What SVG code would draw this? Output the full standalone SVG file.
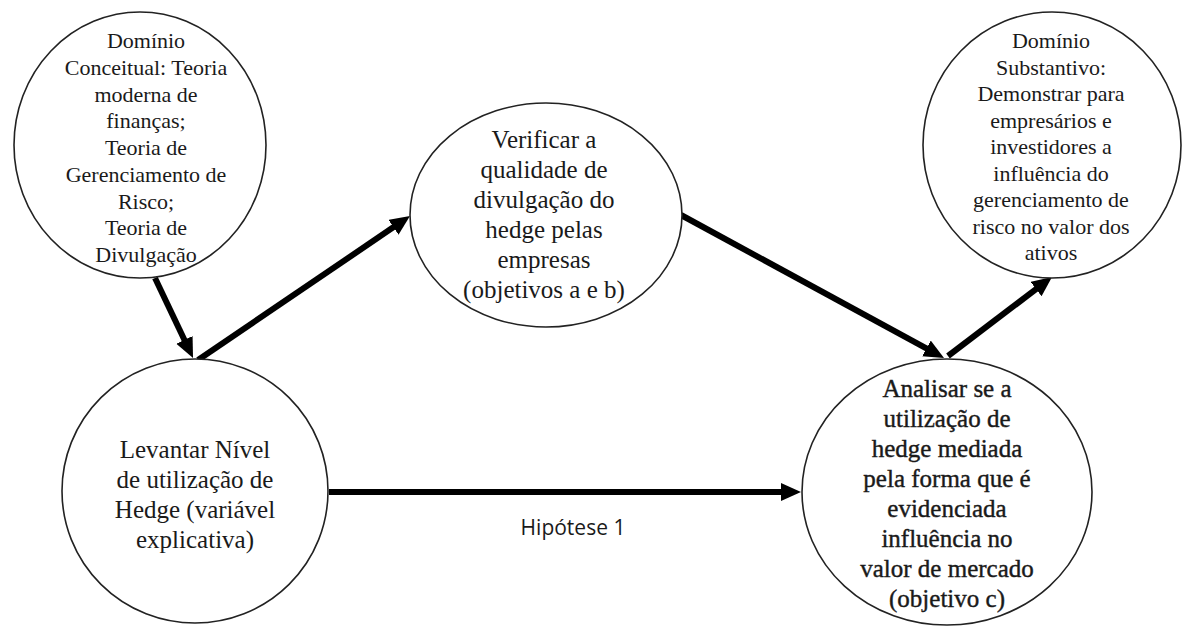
<svg xmlns="http://www.w3.org/2000/svg" width="1187" height="626" viewBox="0 0 1187 626">
  <style>
    .node { fill: #ffffff; stroke: #222222; stroke-width: 1.6; }
    .t { font-family: "Liberation Serif", "Times New Roman", serif; fill: #1a1a1a; text-anchor: middle; }
    .s { font-size: 22px; }
    .l { font-size: 25px; }
    .b { stroke: #1a1a1a; stroke-width: 0.4; }
    .conn { stroke: #000000; stroke-width: 6; fill: none; marker-end: url(#arrow); }
    .lbl { font-family: "Open Sans", "Noto Sans", sans-serif; font-size: 21px; fill: #1a1a1a; text-anchor: middle; }
  </style>
  <defs>
    <marker id="arrow" markerUnits="userSpaceOnUse" markerWidth="22" markerHeight="20" refX="2" refY="9" orient="auto">
      <path d="M0,0 L20,9 L0,18 z" fill="#000000"/>
    </marker>
  </defs>
  <rect width="1187" height="626" fill="#ffffff"/>

  <g id="connectors">
    <line class="conn" x1="155" y1="278" x2="185.3" y2="341.7"/>
    <line class="conn" x1="198" y1="360" x2="395.1" y2="226.1"/>
    <line class="conn" x1="681" y1="215" x2="928.2" y2="349.4"/>
    <line class="conn" x1="948" y1="356" x2="1037.7" y2="287.9"/>
    <line class="conn" x1="329" y1="492" x2="783" y2="492"/>
    <text class="lbl" x="573" y="535">Hipótese 1</text>
  </g>

  <g id="node-conceitual">
    <ellipse class="node" cx="140" cy="145" rx="126" ry="133"/>
    <text class="t s" x="146" y="48">Domínio</text>
    <text class="t s" x="146" y="74.75">Conceitual: Teoria</text>
    <text class="t s" x="146" y="101.5">moderna de</text>
    <text class="t s" x="146" y="128.25">finanças;</text>
    <text class="t s" x="146" y="155">Teoria de</text>
    <text class="t s" x="146" y="181.75">Gerenciamento de</text>
    <text class="t s" x="146" y="208.5">Risco;</text>
    <text class="t s" x="146" y="235.25">Teoria de</text>
    <text class="t s" x="146" y="262">Divulgação</text>
  </g>

  <g id="node-verificar">
    <ellipse class="node" cx="546" cy="215" rx="136" ry="112"/>
    <text class="t l" x="544" y="148">Verificar a</text>
    <text class="t l" x="544" y="178">qualidade de</text>
    <text class="t l" x="544" y="208">divulgação do</text>
    <text class="t l" x="544" y="238">hedge pelas</text>
    <text class="t l" x="544" y="268">empresas</text>
    <text class="t l" x="544" y="298">(objetivos a e b)</text>
  </g>

  <g id="node-substantivo">
    <ellipse class="node" cx="1052" cy="145" rx="129" ry="133"/>
    <text class="t s" x="1051" y="48">Domínio</text>
    <text class="t s" x="1051" y="74.5">Substantivo:</text>
    <text class="t s" x="1051" y="101">Demonstrar para</text>
    <text class="t s" x="1051" y="127.5">empresários e</text>
    <text class="t s" x="1051" y="154">investidores a</text>
    <text class="t s" x="1051" y="180.5">influência do</text>
    <text class="t s" x="1051" y="207">gerenciamento de</text>
    <text class="t s" x="1051" y="233.5">risco no valor dos</text>
    <text class="t s" x="1051" y="260">ativos</text>
  </g>

  <g id="node-levantar">
    <ellipse class="node" cx="195" cy="491" rx="133" ry="132"/>
    <text class="t l" x="195" y="458">Levantar Nível</text>
    <text class="t l" x="195" y="488">de utilização de</text>
    <text class="t l" x="195" y="518">Hedge (variável</text>
    <text class="t l" x="195" y="548">explicativa)</text>
  </g>

  <g id="node-analisar">
    <ellipse class="node" cx="947" cy="492" rx="145" ry="133"/>
    <text class="t l b" x="947" y="397">Analisar se a</text>
    <text class="t l b" x="947" y="427">utilização de</text>
    <text class="t l b" x="947" y="457">hedge mediada</text>
    <text class="t l b" x="947" y="487">pela forma que é</text>
    <text class="t l b" x="947" y="517">evidenciada</text>
    <text class="t l b" x="947" y="547">influência no</text>
    <text class="t l b" x="947" y="577">valor de mercado</text>
    <text class="t l b" x="947" y="607">(objetivo c)</text>
  </g>
</svg>
